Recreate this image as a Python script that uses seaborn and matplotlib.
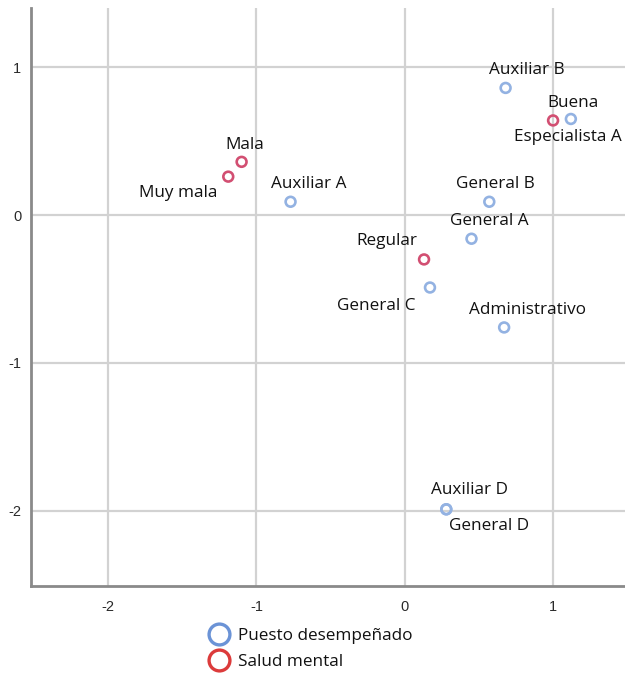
import matplotlib
matplotlib.use("Agg")
import matplotlib.pyplot as plt
from matplotlib.lines import Line2D
import pandas as pd
import seaborn as sns

# ---- data ---------------------------------------------------------------
puesto_labels = ["Auxiliar B", "Especialista A", "Auxiliar A", "General B", "General A",
                 "General C", "Administrativo", "Auxiliar D", "General D"]
puesto_x = [0.68, 1.12, -0.77, 0.57, 0.45, 0.17, 0.67, 0.28, 0.28]
puesto_y = [0.86, 0.65, 0.09, 0.09, -0.16, -0.49, -0.76, -1.99, -1.99]

salud_labels = ["Buena", "Mala", "Muy mala", "Regular"]
salud_x = [1.00, -1.10, -1.19, 0.13]
salud_y = [0.64, 0.36, 0.26, -0.30]

# label offsets (pixels) from each point
puesto_off = [(21, 18), (-3, -18), (18, 18), (6, 18), (18, 18),
              (-54, -18), (23, 17), (23, 19), (43, -17)]
salud_off = [(20, 17), (3, 17), (-50, -16), (-37, 18)]

BLUE_PT, RED_PT = "#93b2e2", "#d24f72"
BLUE_LG, RED_LG = "#6b93d6", "#dc3b3b"

sns.set_theme(style="white")
plt.rcParams["font.family"] = ["Open Sans", "DejaVu Sans"]

puesto = pd.DataFrame({"x": puesto_x, "y": puesto_y, "label": puesto_labels})
salud = pd.DataFrame({"x": salud_x, "y": salud_y, "label": salud_labels})

fig = plt.figure(figsize=(6.25, 6.73), dpi=100)
ax = fig.add_axes([0.0496, 0.129, 0.9504, 0.859])

ax.set_xlim(-2.52, 1.485)
ax.set_ylim(-2.51, 1.40)
ax.set_xticks([-2, -1, 0, 1])
ax.set_yticks([1, 0, -1, -2])
ax.grid(True, color="#d2d2d2", lw=1.6)
ax.set_axisbelow(True)

sns.scatterplot(data=puesto, x="x", y="y", ax=ax, s=50, facecolors="none",
                edgecolor=BLUE_PT, linewidth=1.9, zorder=3, legend=False)
sns.scatterplot(data=salud, x="x", y="y", ax=ax, s=50, facecolors="none",
                edgecolor=RED_PT, linewidth=1.9, zorder=3, legend=False)

for df, offs in ((puesto, puesto_off), (salud, salud_off)):
    for (_, r), (dx, dy) in zip(df.iterrows(), offs):
        ax.annotate(r.label, (r.x, r.y), xytext=(dx, dy), textcoords="offset pixels",
                    ha="center", va="center", fontsize=12.3, color="#111111")

for s in ("top", "right"):
    ax.spines[s].set_visible(False)
for s in ("left", "bottom"):
    ax.spines[s].set_color("#8a8a8a")
    ax.spines[s].set_linewidth(2)
ax.tick_params(length=0, labelsize=10.5, labelcolor="#2a2a2a")
ax.tick_params(axis="x", pad=10)
ax.tick_params(axis="y", pad=7)
ax.set_xlabel("")
ax.set_ylabel("")
ax.set_yticklabels(["1", "0", "-1", "-2"], family=["Liberation Sans"])
ax.set_xticklabels(["-2", "-1", "0", "1"], family=["Liberation Sans"])

handles = [
    Line2D([], [], ls="none", marker="o", ms=15, mfc="none", mec=BLUE_LG, mew=2.4),
    Line2D([], [], ls="none", marker="o", ms=15, mfc="none", mec=RED_LG, mew=2.4),
]
fig.legend(handles, ["Puesto desempeñado", "Salud mental"], loc="upper left",
           bbox_to_anchor=(0.323, 0.08), frameon=False, fontsize=12.3,
           handletextpad=0.6, labelspacing=0.6, borderpad=0, handlelength=1.0,
           labelcolor="#111111")

fig.savefig("out.png", dpi=100)
